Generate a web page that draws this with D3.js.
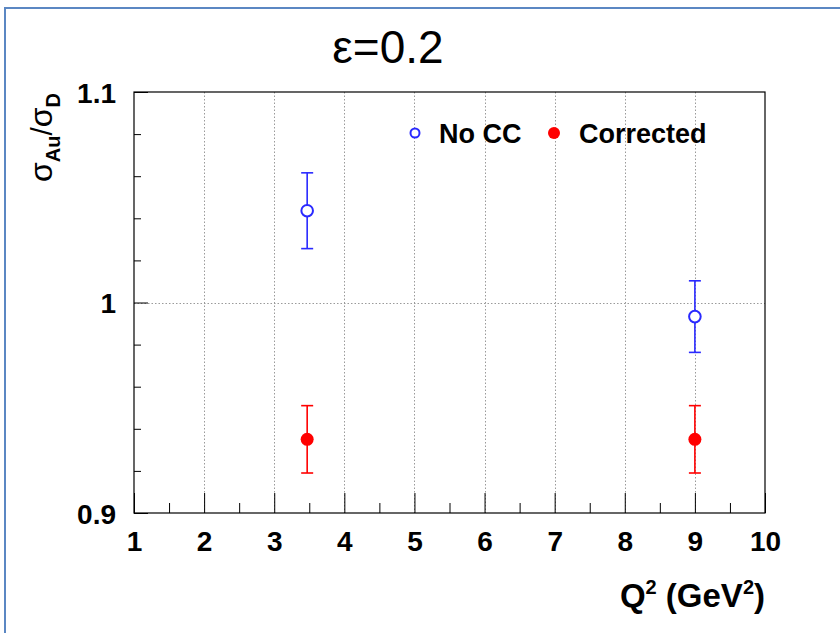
<!DOCTYPE html>
<html>
<head>
<meta charset="utf-8">
<script src="https://cdn.jsdelivr.net/npm/d3@7"></script>
<style>
  html, body { margin: 0; padding: 0; background: #fff; }
  svg { display: block; }
  text { font-family: "Liberation Sans", Arial, sans-serif; }
</style>
</head>
<body>
<svg id="chart" width="840" height="633"></svg>
<script>
// ---- data ----
const q2Values = [3.47, 9.0];
const noCCValues = [1.0436, 0.9933];
const noCCErrors = [0.018, 0.017];
const correctedValues = [0.935, 0.935];
const correctedErrors = [0.016, 0.016];
const xMajorTicks = [1, 2, 3, 4, 5, 6, 7, 8, 9, 10];
const xMinorTicks = [1.5, 2.5, 3.5, 4.5, 5.5, 6.5, 7.5, 8.5, 9.5];
const yMajorTicks = [0.9, 1.0, 1.1];
const yMinorTicks = [0.92, 0.94, 0.96, 0.98, 1.02, 1.04, 1.06, 1.08];
const yTickLabels = ["0.9", "1", "1.1"];
const seriesNames = ["No CC", "Corrected"];
const titleText = "ε=0.2";

// ---- layout ----
const L = 134, R = 765, T = 92, B = 513;
const svg = d3.select("#chart");

// outer slide frame
svg.append("rect").attr("x", 5).attr("y", 8).attr("width", 850).attr("height", 650)
  .attr("fill", "none").attr("stroke", "#5b87c3").attr("stroke-width", 2);

const x = d3.scaleLinear().domain([1, 10]).range([L, R]);
const y = d3.scaleLinear().domain([0.9, 1.1]).range([B, T]);

// grid
const grid = svg.append("g").attr("stroke", "#9a9a9a").attr("stroke-width", 1)
  .attr("stroke-dasharray", "1.5,2");
grid.selectAll("line.gx").data(xMajorTicks.slice(1, -1)).join("line")
  .attr("x1", d => Math.round(x(d)) + 0.5).attr("x2", d => Math.round(x(d)) + 0.5)
  .attr("y1", T).attr("y2", B);
grid.selectAll("line.gy").data([1.0]).join("line")
  .attr("x1", L).attr("x2", R)
  .attr("y1", d => Math.round(y(d)) + 0.5).attr("y2", d => Math.round(y(d)) + 0.5);

// axes (ticks inward)
const xAxisMajor = d3.axisBottom(x).tickValues(xMajorTicks).tickSize(-20).tickFormat(d3.format("d")).tickPadding(18);
const xAxisMinor = d3.axisBottom(x).tickValues(xMinorTicks).tickSize(-10).tickFormat("");
const yAxisMajor = d3.axisLeft(y).tickValues(yMajorTicks).tickSize(-14)
  .tickFormat((d, i) => yTickLabels[i]).tickPadding(18);
const yAxisMinor = d3.axisLeft(y).tickValues(yMinorTicks).tickSize(-7).tickFormat("");

function styleAxis(g) {
  g.select(".domain").remove();
  g.selectAll(".tick line").attr("stroke", "#000").attr("stroke-width", 1);
  g.selectAll(".tick text").attr("fill", "#000").attr("font-size", 28).attr("font-weight", "bold")
    .attr("font-family", "Liberation Sans, Arial, sans-serif");
}
svg.append("g").attr("transform", `translate(0,${B})`).call(xAxisMajor).call(styleAxis);
svg.append("g").attr("transform", `translate(0,${B})`).call(xAxisMinor).call(styleAxis);
svg.append("g").attr("transform", `translate(${L},0)`).call(yAxisMajor).call(styleAxis)
  .selectAll(".tick text").attr("dy", "0.36em");
svg.append("g").attr("transform", `translate(${L},0)`).call(yAxisMinor).call(styleAxis);

// frame
svg.append("rect").attr("x", L).attr("y", T).attr("width", R - L).attr("height", B - T)
  .attr("fill", "none").attr("stroke", "#000").attr("stroke-width", 1.2);

// series
const blue = "#2a2aff", red = "#ff0000";
function drawSeries(vals, errs, color, filled) {
  const g = svg.append("g");
  const pts = q2Values.map((q, i) => ({ q, v: vals[i], e: errs[i] }));
  g.selectAll("line.bar").data(pts).join("line")
    .attr("x1", d => x(d.q)).attr("x2", d => x(d.q))
    .attr("y1", d => y(d.v + d.e)).attr("y2", d => y(d.v - d.e))
    .attr("stroke", color).attr("stroke-width", 1.6);
  ["top", "bot"].forEach(k => {
    g.selectAll("line.cap" + k).data(pts).join("line")
      .attr("x1", d => x(d.q) - 6).attr("x2", d => x(d.q) + 6)
      .attr("y1", d => y(k === "top" ? d.v + d.e : d.v - d.e))
      .attr("y2", d => y(k === "top" ? d.v + d.e : d.v - d.e))
      .attr("stroke", color).attr("stroke-width", 1.6);
  });
  g.selectAll("circle").data(pts).join("circle")
    .attr("cx", d => x(d.q)).attr("cy", d => y(d.v)).attr("r", filled ? 6.5 : 5.8)
    .attr("fill", filled ? color : "#fff").attr("stroke", color).attr("stroke-width", filled ? 0 : 2);
}
drawSeries(noCCValues, noCCErrors, blue, false);
drawSeries(correctedValues, correctedErrors, red, true);

// legend
const leg = svg.append("g");
leg.append("circle").attr("cx", 415).attr("cy", 133).attr("r", 4.5)
  .attr("fill", "#fff").attr("stroke", blue).attr("stroke-width", 2);
leg.append("text").attr("x", 439).attr("y", 143).attr("font-size", 27).attr("font-weight", "bold")
  .text(seriesNames[0]);
leg.append("circle").attr("cx", 554).attr("cy", 133).attr("r", 6).attr("fill", red);
leg.append("text").attr("x", 579).attr("y", 143).attr("font-size", 27).attr("font-weight", "bold")
  .text(seriesNames[1]);

// title
svg.append("text").attr("x", 388).attr("y", 63).attr("text-anchor", "middle")
  .attr("font-size", 46).text(titleText);

// x-axis title
const xt = svg.append("text").attr("x", R).attr("y", 607).attr("text-anchor", "end")
  .attr("font-size", 33).attr("font-weight", "bold");
xt.append("tspan").text("Q");
xt.append("tspan").attr("font-size", 20).attr("dy", -13).text("2");
xt.append("tspan").attr("dy", 13).text(" (GeV");
xt.append("tspan").attr("font-size", 20).attr("dy", -13).text("2");
xt.append("tspan").attr("dy", 13).text(")");

// y-axis title
const yt = svg.append("text").attr("transform", "translate(52,93) rotate(-90)")
  .attr("text-anchor", "end").attr("font-size", 32);
yt.append("tspan").text("σ");
yt.append("tspan").attr("font-size", 20).attr("font-weight", "bold").attr("dy", 8).text("Au");
yt.append("tspan").attr("dy", -8).attr("font-size", 30).text("/");
yt.append("tspan").text("σ");
yt.append("tspan").attr("font-size", 20).attr("font-weight", "bold").attr("dy", 8).text("D");
</script>
</body>
</html>
